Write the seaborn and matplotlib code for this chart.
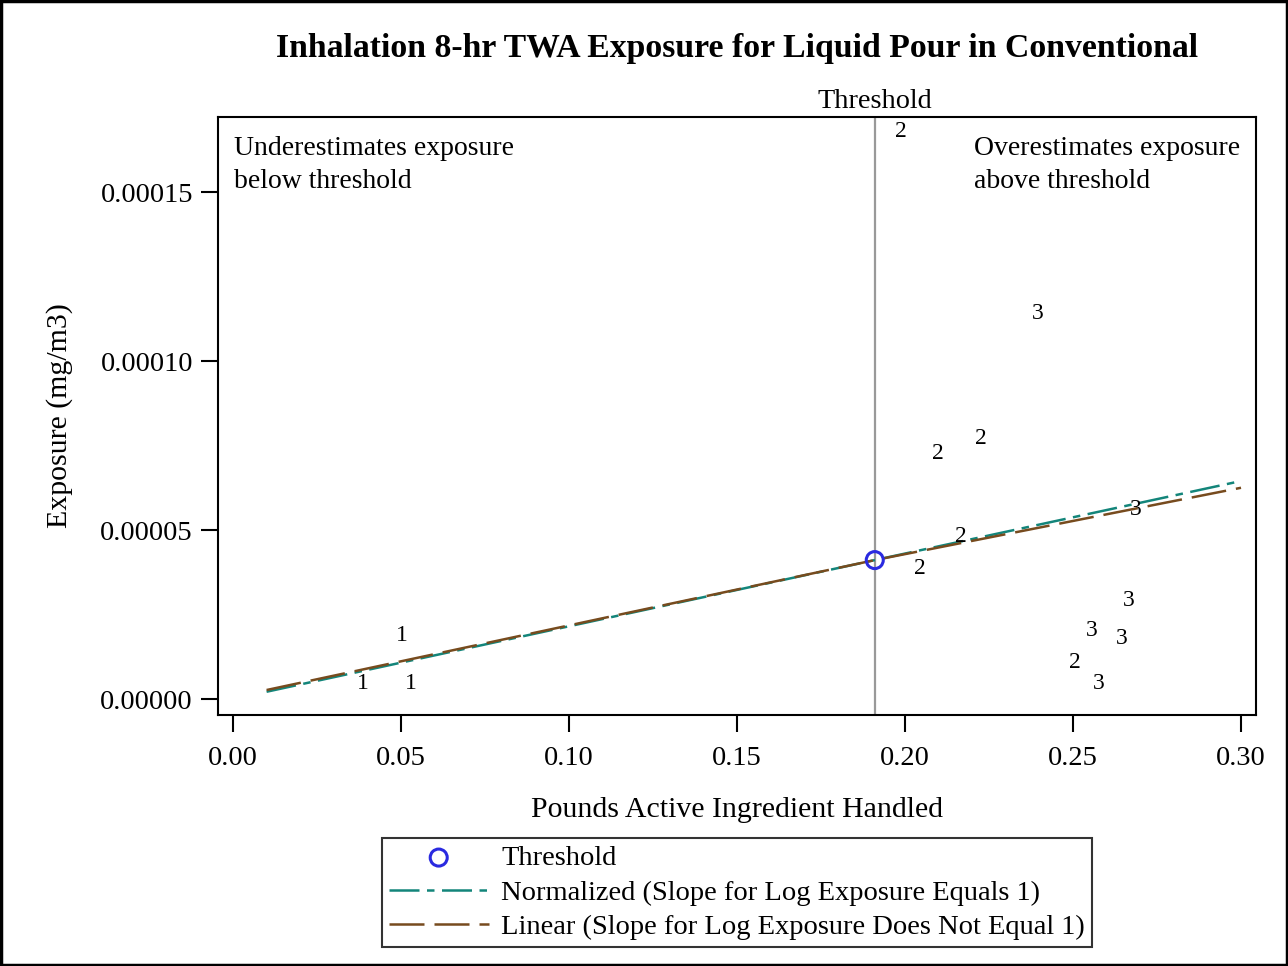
import matplotlib
matplotlib.use('Agg')
import matplotlib.pyplot as plt
import seaborn as sns
import pandas as pd
from matplotlib.patches import Rectangle
from matplotlib.ticker import FormatStrFormatter

# observations: pounds handled, exposure, label (group number)
obs_x = [0.0387, 0.0503, 0.0530, 0.1988, 0.2396, 0.2098, 0.2226, 0.2167,
         0.2688, 0.2045, 0.2667, 0.2557, 0.2646, 0.2506, 0.2577]
obs_y = [4.7e-6, 1.89e-5, 4.7e-6, 1.68e-4, 1.14e-4, 7.25e-5, 7.72e-5, 4.82e-5,
         5.62e-5, 3.85e-5, 2.9e-5, 2.04e-5, 1.78e-5, 1.07e-5, 4.7e-6]
obs_lab = ['1', '1', '1', '2', '3', '2', '2', '2',
           '3', '2', '3', '3', '3', '2', '3']

threshold_x = [0.191]
threshold_y = [4.11e-5]

line_x = [0.01, 0.191, 0.30]
normalized_y = [2.15e-6, 4.11e-5, 6.45e-5]
linear_y = [2.66e-6, 4.11e-5, 6.25e-5]

sns.set_style('ticks')
plt.rcParams['font.family'] = ['Liberation Serif', 'DejaVu Serif']
plt.rcParams['text.color'] = 'black'
plt.rcParams['axes.labelcolor'] = 'black'
plt.rcParams['xtick.color'] = 'black'
plt.rcParams['ytick.color'] = 'black'

fig = plt.figure(figsize=(12.88, 9.66), dpi=100)
ax = fig.add_axes([218 / 1288, 1 - 715 / 966, (1256 - 218) / 1288, (715 - 117) / 966])

ax.axvline(threshold_x[0], color='#999999', lw=1.6, zorder=1)

lines = pd.DataFrame({'x': line_x * 2,
                      'y': normalized_y + linear_y,
                      'fit': ['Normalized (Slope for Log Exposure Equals 1)'] * 3
                             + ['Linear (Slope for Log Exposure Does Not Equal 1)'] * 3})
sns.lineplot(data=lines, x='x', y='y', hue='fit', style='fit',
             palette=['#13857a', '#774b1e'],
             dashes=[(12, 3, 3, 3), (14, 4)], lw=1.8, ax=ax, legend=False)
nl, ll = ax.get_lines()[1], ax.get_lines()[2]

for xv, yv, t in zip(obs_x, obs_y, obs_lab):
    ax.text(xv, yv, t, fontsize=17, ha='center', va='center', zorder=4)

sns.scatterplot(x=threshold_x, y=threshold_y, ax=ax, marker='o', s=150,
                facecolors='none', edgecolor='#2a2ae0', linewidth=2.2, zorder=5)
tp = ax.collections[-1]

ax.set_xlim(-0.00446, 0.30446)
ax.set_ylim(-4.73e-6, 1.722e-4)
ax.set_xticks([0.0, 0.05, 0.10, 0.15, 0.20, 0.25, 0.30])
ax.set_yticks([0.0, 5e-5, 1e-4, 1.5e-4])
ax.xaxis.set_major_formatter(FormatStrFormatter('%.2f'))
ax.yaxis.set_major_formatter(FormatStrFormatter('%.5f'))
ax.tick_params(labelsize=20.5, length=12, width=1.5, direction='out')
ax.tick_params(axis='x', pad=10)
ax.tick_params(axis='y', pad=6)
for s in ax.spines.values():
    s.set_visible(True)
    s.set_linewidth(1.5)
    s.set_color('black')

ax.set_xlabel('Pounds Active Ingredient Handled', fontsize=21.5, labelpad=19)
ax.set_ylabel('Exposure (mg/m3)', fontsize=21.5, labelpad=20)

ax.text(0.015, 0.968, 'Underestimates exposure\nbelow threshold', transform=ax.transAxes,
        fontsize=20, va='top', ha='left', linespacing=1.42)
ax.text(0.728, 0.968, 'Overestimates exposure\nabove threshold', transform=ax.transAxes,
        fontsize=20, va='top', ha='left', linespacing=1.42)
ax.text(threshold_x[0], 1.005, 'Threshold', transform=ax.get_xaxis_transform(),
        fontsize=20.3, ha='center', va='bottom')

fig.text(737 / 1288, 1 - 48 / 966, 'Inhalation 8-hr TWA Exposure for Liquid Pour in Conventional',
         fontsize=24.3, fontweight='bold', ha='center', va='center')

leg = fig.legend([tp, nl, ll],
                 ['Threshold', 'Normalized (Slope for Log Exposure Equals 1)',
                  'Linear (Slope for Log Exposure Does Not Equal 1)'],
                 loc='upper center', bbox_to_anchor=(737 / 1288, 1 - 838 / 966),
                 fontsize=20.5, frameon=True, fancybox=False, edgecolor='black',
                 handlelength=3.5, handletextpad=0.45, labelspacing=0.3,
                 borderpad=0.25, borderaxespad=0)
leg.get_frame().set_linewidth(1.5)

fig.patches.append(Rectangle((0.001, 0.001), 0.998, 0.998, transform=fig.transFigure,
                             fill=False, edgecolor='black', lw=2.5))

fig.savefig('out.png', dpi=100)
